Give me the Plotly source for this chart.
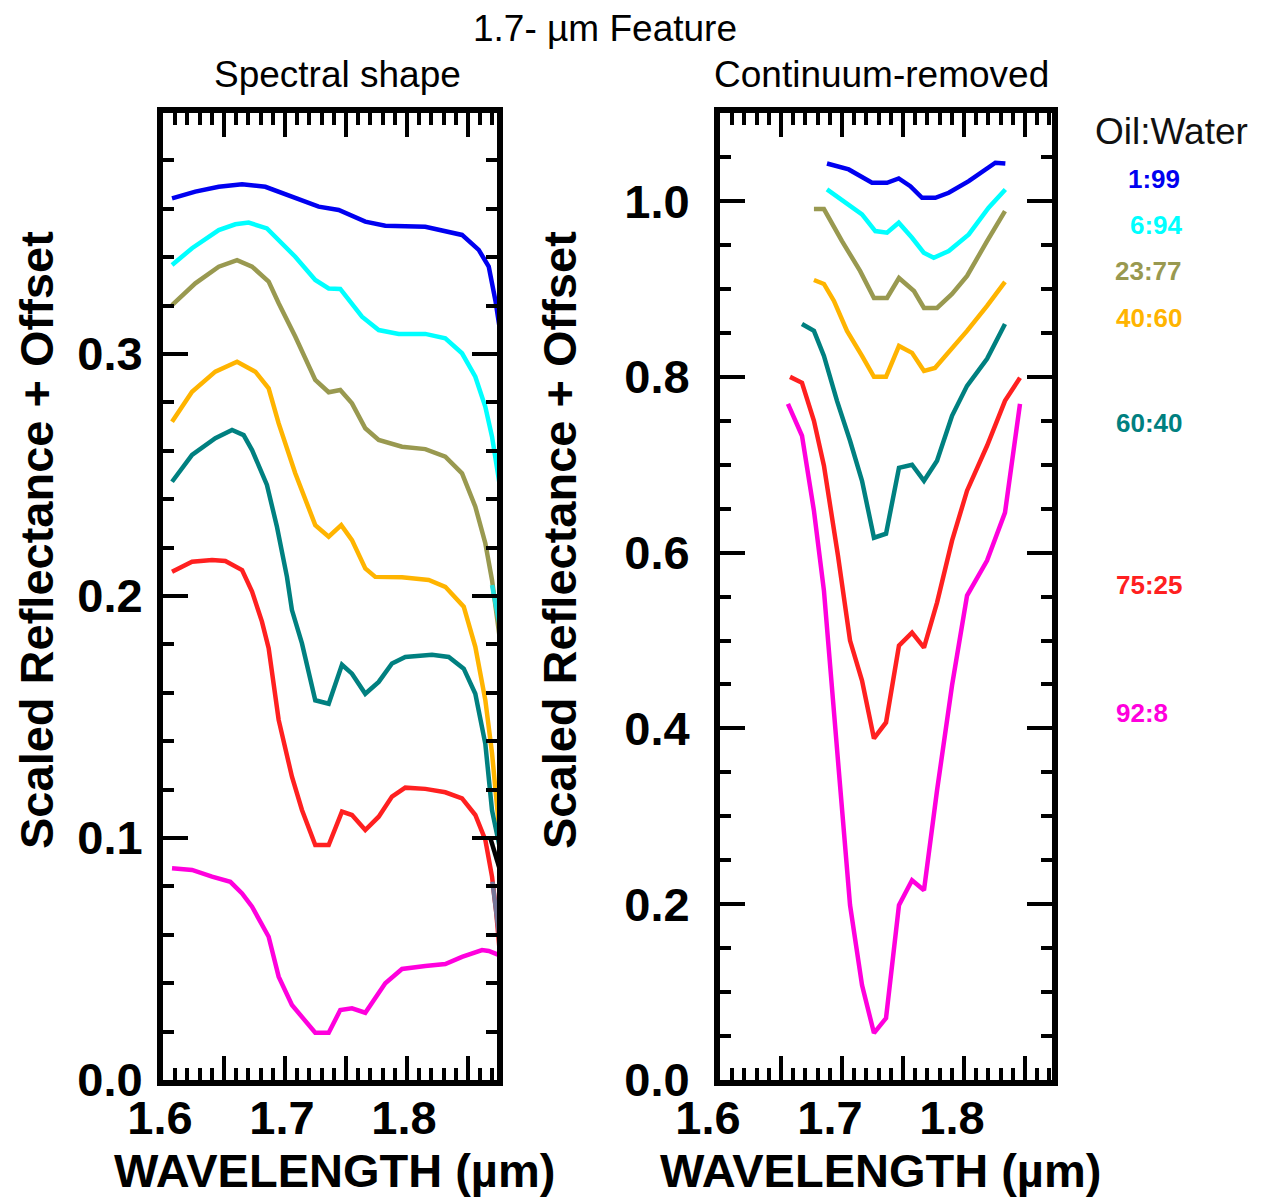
import plotly.graph_objects as go

# page body adds an 8px margin; the figure is laid out in reference-pixel coordinates minus 8
OFF = 8
W, H = 1262 - OFF, 1201 - OFF

# ---------------- Left panel: spectral shape (scaled reflectance + offset) ----------------
ratios = ["1:99", "6:94", "23:77", "40:60", "60:40", "75:25", "92:8"]
colors = ["#0000F0", "#00FFFF", "#999950", "#FFB400", "#008080", "#FF2020", "#FF00DD"]

left_x_blue = [1.6074, 1.6265, 1.6457, 1.6648, 1.6839, 1.7057, 1.7276, 1.7440, 1.7658, 1.7822, 1.8150, 1.8451, 1.8588, 1.8670, 1.8725, 1.8762]
left_y_blue = [0.3643, 0.3671, 0.3691, 0.3701, 0.3691, 0.3650, 0.3609, 0.3595, 0.3547, 0.3530, 0.3526, 0.3492, 0.3430, 0.3361, 0.3220, 0.3099]

left_x_cyan = [1.6074, 1.6238, 1.6457, 1.6593, 1.6702, 1.6852, 1.7084, 1.7248, 1.7358, 1.7453, 1.7631, 1.7768, 1.7932, 1.8150, 1.8314, 1.8451, 1.8560, 1.8642, 1.8697, 1.8762]
left_y_cyan = [0.3368, 0.3437, 0.3512, 0.3536, 0.3543, 0.3519, 0.3402, 0.3306, 0.3271, 0.3269, 0.3154, 0.3099, 0.3083, 0.3083, 0.3065, 0.3003, 0.2906, 0.2782, 0.2658, 0.2452]

left_x_olive = [1.6074, 1.6265, 1.6457, 1.6607, 1.6730, 1.6866, 1.6948, 1.7084, 1.7248, 1.7358, 1.7453, 1.7549, 1.7658, 1.7768, 1.7959, 1.8150, 1.8314, 1.8451, 1.8560, 1.8642, 1.8697, 1.8762]
left_y_olive = [0.3202, 0.3292, 0.3361, 0.3388, 0.3361, 0.3299, 0.3210, 0.3072, 0.2893, 0.2842, 0.2851, 0.2796, 0.2693, 0.2645, 0.2617, 0.2607, 0.2576, 0.2507, 0.2369, 0.2218, 0.2066, 0.1818]

left_x_orange = [1.6074, 1.6238, 1.6429, 1.6607, 1.6757, 1.6866, 1.6948, 1.7084, 1.7248, 1.7358, 1.7461, 1.7549, 1.7658, 1.7740, 1.7959, 1.8178, 1.8314, 1.8465, 1.8560, 1.8642, 1.8697, 1.8762]
left_y_orange = [0.2720, 0.2844, 0.2927, 0.2968, 0.2927, 0.2858, 0.2713, 0.2507, 0.2293, 0.2245, 0.2293, 0.2231, 0.2114, 0.2079, 0.2077, 0.2066, 0.2038, 0.1956, 0.1790, 0.1570, 0.1350, 0.1005]

left_x_teal = [1.6074, 1.6238, 1.6429, 1.6566, 1.6661, 1.6730, 1.6852, 1.6934, 1.7016, 1.7057, 1.7139, 1.7248, 1.7358, 1.7467, 1.7549, 1.7658, 1.7768, 1.7877, 1.7986, 1.8205, 1.8342, 1.8465, 1.8560, 1.8642, 1.8697, 1.8762]
left_y_teal = [0.2472, 0.2583, 0.2652, 0.2686, 0.2665, 0.2603, 0.2459, 0.2286, 0.2079, 0.1942, 0.1804, 0.1569, 0.1555, 0.1716, 0.1679, 0.1596, 0.1645, 0.1721, 0.1748, 0.1757, 0.1748, 0.1700, 0.1596, 0.1389, 0.1114, 0.0957]

left_x_red = [1.6074, 1.6238, 1.6402, 1.6511, 1.6648, 1.6730, 1.6811, 1.6866, 1.6948, 1.7057, 1.7139, 1.7248, 1.7358, 1.7467, 1.7549, 1.7658, 1.7768, 1.7877, 1.7986, 1.8150, 1.8314, 1.8451, 1.8560, 1.8642, 1.8697, 1.8730, 1.8762]
left_y_red = [0.2100, 0.2142, 0.2149, 0.2145, 0.2107, 0.2018, 0.1894, 0.1784, 0.1488, 0.1253, 0.1116, 0.0971, 0.0971, 0.1109, 0.1095, 0.1033, 0.1088, 0.1171, 0.1208, 0.1203, 0.1189, 0.1164, 0.1095, 0.0992, 0.0840, 0.0700, 0.0520]

left_x_magenta = [1.6074, 1.6238, 1.6402, 1.6552, 1.6648, 1.6730, 1.6866, 1.6948, 1.7057, 1.7166, 1.7248, 1.7358, 1.7453, 1.7549, 1.7658, 1.7822, 1.7959, 1.8150, 1.8314, 1.8451, 1.8615, 1.8670, 1.8752]
left_y_magenta = [0.0875, 0.0868, 0.0840, 0.0819, 0.0771, 0.0716, 0.0592, 0.0427, 0.0310, 0.0241, 0.0195, 0.0195, 0.0289, 0.0296, 0.0278, 0.0400, 0.0459, 0.0471, 0.0479, 0.0509, 0.0537, 0.0533, 0.0517]

# short pieces visible at the right edge of the left panel
edge_x_cyan = [1.8697, 1.8762]
edge_y_cyan = [0.2045, 0.1873]
edge_x_black = [1.8680, 1.8762]
edge_y_black = [0.1005, 0.0868]
edge_x_gray = [1.8700, 1.8762]
edge_y_gray = [0.0819, 0.0571]

# ---------------- Right panel: continuum-removed ----------------
right_x_blue = [1.6877, 1.7055, 1.7246, 1.7369, 1.7465, 1.7560, 1.7656, 1.7765, 1.7875, 1.8039, 1.8257, 1.8339]
right_y_blue = [1.0428, 1.0360, 1.0208, 1.0208, 1.0258, 1.0170, 1.0038, 1.0038, 1.0095, 1.0227, 1.0436, 1.0428]

right_x_cyan = [1.6877, 1.7055, 1.7164, 1.7273, 1.7369, 1.7465, 1.7574, 1.7670, 1.7752, 1.7875, 1.8039, 1.8202, 1.8339]
right_y_cyan = [1.0133, 0.9962, 0.9848, 0.9659, 0.9640, 0.9754, 0.9583, 0.9413, 0.9356, 0.9432, 0.9621, 0.9924, 1.0133]

right_x_olive = [1.6770, 1.6852, 1.7000, 1.7148, 1.7262, 1.7369, 1.7467, 1.7590, 1.7672, 1.7779, 1.7902, 1.8025, 1.8189, 1.8336]
right_y_olive = [0.9909, 0.9909, 0.9545, 0.9205, 0.8898, 0.8898, 0.9125, 0.8977, 0.8784, 0.8784, 0.8943, 0.9148, 0.9545, 0.9886]

right_x_orange = [1.6770, 1.6852, 1.6934, 1.7041, 1.7164, 1.7262, 1.7361, 1.7467, 1.7574, 1.7672, 1.7762, 1.7885, 1.8025, 1.8189, 1.8336]
right_y_orange = [0.9102, 0.9057, 0.8864, 0.8523, 0.8239, 0.8000, 0.8000, 0.8352, 0.8273, 0.8068, 0.8102, 0.8295, 0.8523, 0.8807, 0.9080]

right_x_teal = [1.6672, 1.6770, 1.6852, 1.6959, 1.7066, 1.7164, 1.7262, 1.7361, 1.7467, 1.7574, 1.7672, 1.7779, 1.7902, 1.8025, 1.8189, 1.8336]
right_y_teal = [0.8602, 0.8523, 0.8239, 0.7727, 0.7273, 0.6818, 0.6170, 0.6216, 0.6966, 0.7000, 0.6818, 0.7045, 0.7557, 0.7898, 0.8205, 0.8602]

right_x_red = [1.6574, 1.6672, 1.6770, 1.6852, 1.6967, 1.7066, 1.7164, 1.7262, 1.7361, 1.7467, 1.7574, 1.7672, 1.7779, 1.7902, 1.8025, 1.8189, 1.8336, 1.8459]
right_y_red = [0.8000, 0.7932, 0.7500, 0.6989, 0.5966, 0.5000, 0.4545, 0.3886, 0.4068, 0.4943, 0.5091, 0.4920, 0.5432, 0.6136, 0.6705, 0.7216, 0.7727, 0.7989]

right_x_magenta = [1.6557, 1.6672, 1.6770, 1.6852, 1.6967, 1.7066, 1.7164, 1.7262, 1.7361, 1.7467, 1.7574, 1.7672, 1.7779, 1.7902, 1.8025, 1.8189, 1.8336, 1.8459]
right_y_magenta = [0.7693, 0.7330, 0.6477, 0.5568, 0.3636, 0.1989, 0.1080, 0.0534, 0.0705, 0.1989, 0.2273, 0.2159, 0.3295, 0.4489, 0.5511, 0.5909, 0.6455, 0.7693]

# axis ticks
x_tickvals = [1.6, 1.65, 1.7, 1.75, 1.8, 1.85]
x_ticktext = ["1.6", "", "1.7", "", "1.8", ""]
left_y_tickvals = [0.0, 0.1, 0.2, 0.3]
left_y_ticktext = ["0.0", "0.1", "0.2", "0.3"]
right_y_tickvals = [0.0, 0.2, 0.4, 0.6, 0.8, 1.0]
right_y_ticktext = ["0.0", "0.2", "0.4", "0.6", "0.8", "1.0"]

# legend label vertical positions (right panel data units) & left pixel offsets
legend_y = [1.025, 0.973, 0.920, 0.867, 0.748, 0.563, 0.418]
legend_x_px = [1126, 1128, 1113, 1114, 1114, 1114, 1114]

left_series = [
    (left_x_blue, left_y_blue), (left_x_cyan, left_y_cyan), (left_x_olive, left_y_olive),
    (left_x_orange, left_y_orange), (left_x_teal, left_y_teal), (left_x_red, left_y_red),
    (left_x_magenta, left_y_magenta),
]
right_series = [
    (right_x_blue, right_y_blue), (right_x_cyan, right_y_cyan), (right_x_olive, right_y_olive),
    (right_x_orange, right_y_orange), (right_x_teal, right_y_teal), (right_x_red, right_y_red),
    (right_x_magenta, right_y_magenta),
]

LW = 4.5
fig = go.Figure()
for (xs, ys), c in zip(left_series, colors):
    fig.add_trace(go.Scatter(x=xs, y=ys, mode="lines", line=dict(color=c, width=LW),
                             xaxis="x", yaxis="y", showlegend=False, hoverinfo="skip"))
for xs, ys, c in [(edge_x_cyan, edge_y_cyan, "#22DDDD"), (edge_x_black, edge_y_black, "#000000"),
                  (edge_x_gray, edge_y_gray, "#777799")]:
    fig.add_trace(go.Scatter(x=xs, y=ys, mode="lines", line=dict(color=c, width=LW),
                             xaxis="x", yaxis="y", showlegend=False, hoverinfo="skip"))
for (xs, ys), c in zip(right_series, colors):
    fig.add_trace(go.Scatter(x=xs, y=ys, mode="lines", line=dict(color=c, width=LW),
                             xaxis="x2", yaxis="y2", showlegend=False, hoverinfo="skip"))


def px(x):
    return (x - OFF) / W


def py(y):
    return 1 - (y - OFF) / H


tickfont = dict(family="Liberation Sans, Arial, sans-serif", size=47, color="black", weight="bold")
common = dict(showline=True, linecolor="black", linewidth=6, mirror="allticks", ticks="inside",
              tickcolor="black", tickwidth=4, showgrid=False, zeroline=False, tickfont=tickfont,
              fixedrange=True, automargin=False)

y_dom = [py(1080), py(113)]

fig.update_layout(
    width=W, height=H, margin=dict(l=0, r=0, t=0, b=0, autoexpand=False),
    paper_bgcolor="white", plot_bgcolor="white", showlegend=False,
    xaxis=dict(domain=[px(163), px(497)], range=[1.6, 1.6 + 334 / 1220], anchor="y",
               tickmode="array", tickvals=x_tickvals, ticktext=x_ticktext, ticklen=24,
               minor=dict(dtick=0.01, tick0=1.6, ticklen=12, tickwidth=4, tickcolor="black", ticks="inside"),
               ticklabelshift=-3, ticklabelstandoff=-8, **common),
    yaxis=dict(domain=y_dom, range=[0, 967 / 2420], anchor="x",
               tickmode="array", tickvals=left_y_tickvals, ticktext=left_y_ticktext, ticklen=25,
               minor=dict(dtick=0.02, tick0=0, ticklen=11, tickwidth=4, tickcolor="black", ticks="inside"),
               ticklabelstandoff=5, **common),
    xaxis2=dict(domain=[px(720), px(1052)], range=[1.6, 1.6 + 332 / 1220], anchor="y2",
                tickmode="array", tickvals=x_tickvals, ticktext=x_ticktext, ticklen=24,
                minor=dict(dtick=0.01, tick0=1.6, ticklen=12, tickwidth=4, tickcolor="black", ticks="inside"),
                ticklabelshift=-12, ticklabelstandoff=-8, **common),
    yaxis2=dict(domain=y_dom, range=[0, 966 / 878], anchor="x2",
                tickmode="array", tickvals=right_y_tickvals, ticktext=right_y_ticktext, ticklen=25,
                minor=dict(dtick=0.05, tick0=0, ticklen=11, tickwidth=4, tickcolor="black", ticks="inside"),
                ticklabelstandoff=15, **common),
)

titlefont = dict(family="Liberation Sans, Arial, sans-serif", size=37, color="black")
boldfont = dict(family="Liberation Sans, Arial, sans-serif", size=47, color="black", weight="bold")

ann = [
    dict(text="1.7- \u00b5m Feature", x=px(605), y=py(28), font=titlefont),
    dict(text="Spectral shape", x=px(337), y=py(74), font=titlefont),
    dict(text="Continuum-removed", x=px(881), y=py(74), font=titlefont),
    dict(text="Oil:Water", x=px(1171), y=py(132), font=dict(titlefont, color="#111111")),
    dict(text="Scaled Reflectance + Offset", x=px(36), y=py(540), textangle=-90, font=boldfont),
    dict(text="Scaled Reflectance + Offset", x=px(559), y=py(540), textangle=-90, font=boldfont),
    dict(text="WAVELENGTH (\u00b5m)", x=px(334), y=py(1170), font=boldfont),
    dict(text="WAVELENGTH (\u00b5m)", x=px(880), y=py(1170), font=boldfont),
]
for a in ann:
    fig.add_annotation(xref="paper", yref="paper", xanchor="center", yanchor="middle",
                       showarrow=False, **a)

for lab, c, yv, xl in zip(ratios, colors, legend_y, legend_x_px):
    fig.add_annotation(xref="paper", yref="y2", x=px(xl), y=yv, xanchor="left", yanchor="middle",
                       text=lab, showarrow=False,
                       font=dict(family="Liberation Sans, Arial, sans-serif", size=26, color=c, weight="bold"))

fig.write_html("out.html")
